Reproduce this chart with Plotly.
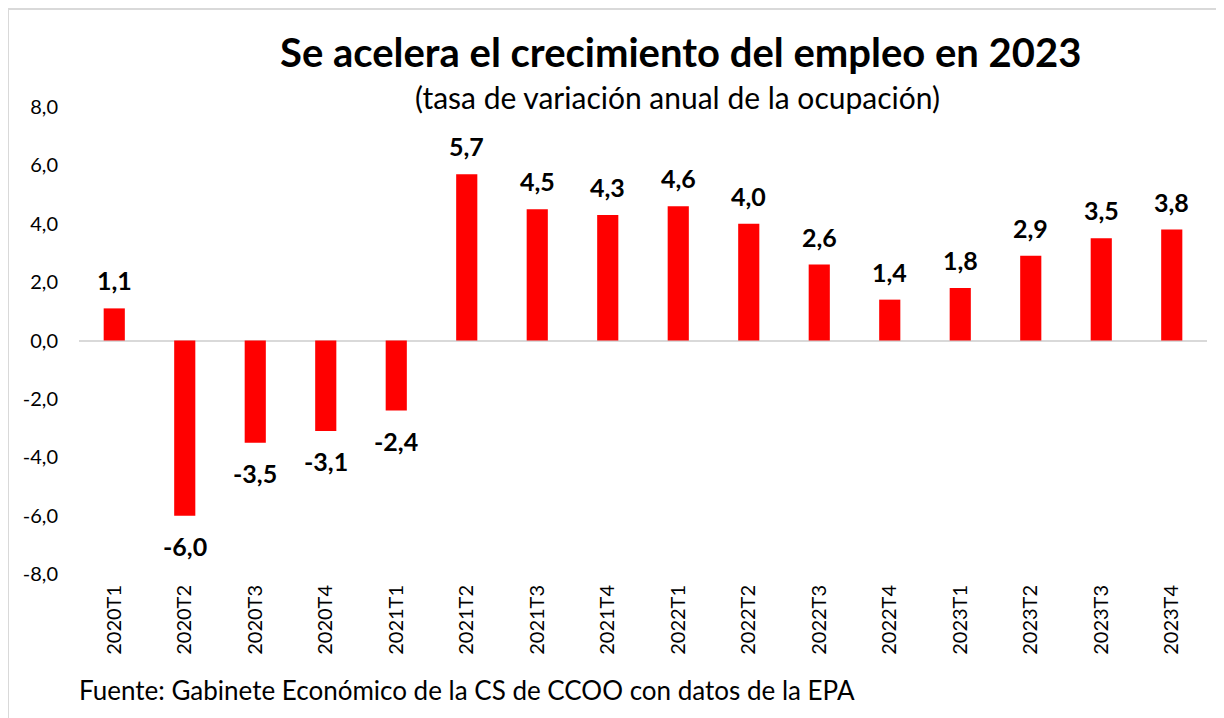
import plotly.graph_objects as go

categories = ["2020T1", "2020T2", "2020T3", "2020T4", "2021T1", "2021T2", "2021T3", "2021T4",
              "2022T1", "2022T2", "2022T3", "2022T4", "2023T1", "2023T2", "2023T3", "2023T4"]
values = [1.1, -6.0, -3.5, -3.1, -2.4, 5.7, 4.5, 4.3, 4.6, 4.0, 2.6, 1.4, 1.8, 2.9, 3.5, 3.8]
ytick_vals = [-8, -6, -4, -2, 0, 2, 4, 6, 8]

def fmt(v):
    return f"{v:.1f}".replace(".", ",")

FONT = "Lato"
OFF = 8  # page body margin
W, H = 1216, 710
L, R, T, B = 71, 17, 99, 144

fig = go.Figure()
fig.add_trace(go.Bar(
    x=categories, y=values,
    marker=dict(color="#ff0000", line=dict(width=0)),
    width=0.30,
    cliponaxis=False,
))

pw = W - L - R
ph = H - T - B
def px(x):  # screen x -> paper
    return (x - OFF - L) / pw
def py(y):  # screen y -> paper
    return (H - B - (y - OFF)) / ph

annotations = [
    dict(text="<b>Se acelera el crecimiento del empleo en 2023</b>", x=px(680), y=py(52),
         xref="paper", yref="paper", showarrow=False, font=dict(size=40, family=FONT),
         xanchor="center", yanchor="middle"),
    dict(text="(tasa de variación anual de la ocupación)", x=px(677), y=py(97),
         xref="paper", yref="paper", showarrow=False, font=dict(size=30, family=FONT),
         xanchor="center", yanchor="middle"),
    dict(text="Fuente: Gabinete Económico de la CS de CCOO con datos de la EPA", x=px(77), y=py(690),
         xref="paper", yref="paper", showarrow=False, font=dict(size=26, family=FONT),
         xanchor="left", yanchor="middle"),
]
for c, v in zip(categories, values):
    annotations.append(dict(
        text=f"<b>{fmt(v)}</b>", x=c, y=v, xref="x", yref="y", showarrow=False,
        font=dict(size=25, family=FONT, color="black"),
        xanchor="center", yanchor="bottom" if v >= 0 else "top",
        yshift=11 if v >= 0 else -13,
    ))

fig.update_layout(
    width=W, height=H,
    margin=dict(l=L, r=R, t=T, b=B),
    paper_bgcolor="white", plot_bgcolor="white",
    showlegend=False,
    font=dict(family=FONT, color="black"),
    xaxis=dict(tickangle=-90, tickfont=dict(size=20, family=FONT), showline=False,
               ticks="", showgrid=False, ticklabelstandoff=6),
    yaxis=dict(range=[-8, 8], tickvals=ytick_vals, ticktext=[fmt(v) for v in ytick_vals],
               tickfont=dict(size=20, family=FONT), showgrid=False, zeroline=True,
               zerolinecolor="#d9d9d9", zerolinewidth=2, ticks="", ticklabelstandoff=20),
    annotations=annotations,
    shapes=[
        dict(type="rect", xref="paper", yref="paper", x0=px(8), x1=px(1218), y0=py(740), y1=py(9),
             line=dict(color="#d9d9d9", width=2), fillcolor="rgba(0,0,0,0)", layer="below"),
    ],
)

fig.write_html("out.html")
